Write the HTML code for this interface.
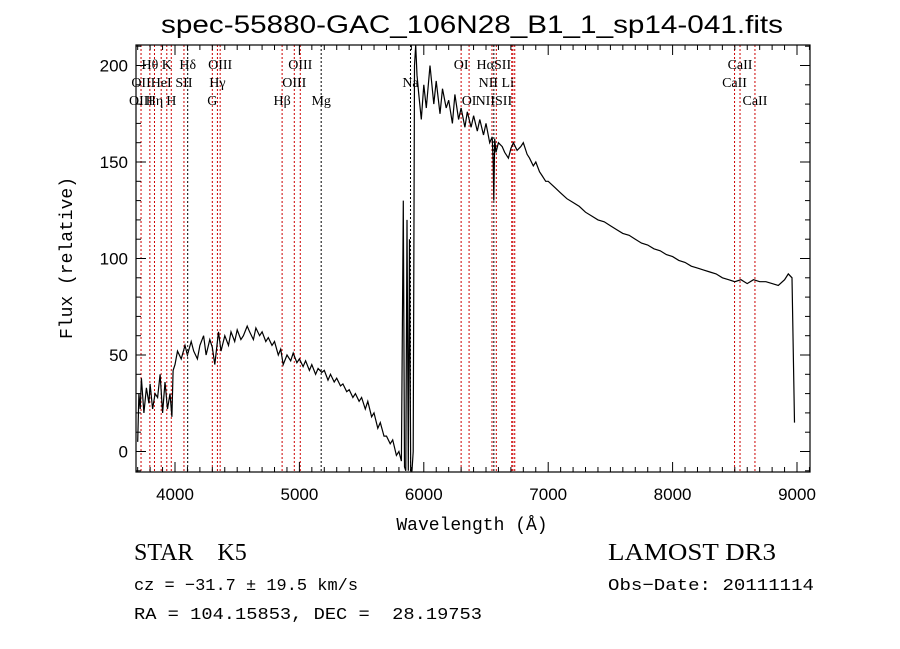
<!DOCTYPE html>
<html><head><meta charset="utf-8"><style>
body{margin:0;background:#fff;}
svg{display:block;}
text{fill:#000;white-space:pre;}
</style></head><body>
<svg id="chart" width="900" height="649" viewBox="0 0 900 649" xmlns="http://www.w3.org/2000/svg" xml:space="preserve">
<rect width="900" height="649" fill="#fff"/>
<text x="472" y="33" text-anchor="middle" font-family="Liberation Sans, sans-serif" font-size="25" textLength="622" lengthAdjust="spacingAndGlyphs">spec-55880-GAC_106N28_B1_1_sp14-041.fits</text>
<g id="lines"></g>
<g id="labels"></g>
<path id="spec" fill="none" stroke="#000" stroke-width="1.2"/>
<rect x="136" y="45" width="674" height="427" fill="none" stroke="#000" stroke-width="1.2"/>
<g id="ticks"></g>
<text x="472" y="530" text-anchor="middle" font-family="Liberation Mono, monospace" font-size="18">Wavelength (Å)</text>
<text transform="translate(72,258) rotate(-90)" text-anchor="middle" font-family="Liberation Mono, monospace" font-size="18">Flux (relative)</text>
<text x="134" y="560" font-family="Liberation Serif, serif" font-size="24">STAR    K5</text>
<text x="608" y="560" font-family="Liberation Serif, serif" font-size="24" textLength="168" lengthAdjust="spacingAndGlyphs">LAMOST DR3</text>
<text x="134" y="590" font-family="Liberation Mono, monospace" font-size="17" textLength="224" lengthAdjust="spacingAndGlyphs">cz = −31.7 ± 19.5 km/s</text>
<text x="608" y="590" font-family="Liberation Mono, monospace" font-size="17" textLength="206" lengthAdjust="spacingAndGlyphs">Obs−Date: 20111114</text>
<text x="134" y="619" font-family="Liberation Mono, monospace" font-size="17" textLength="348" lengthAdjust="spacingAndGlyphs">RA = 104.15853, DEC =  28.19753</text>
</svg>
<script>
const wave=[3700,3710,3720,3730,3750,3770,3790,3800,3820,3840,3860,3880,3900,3920,3940,3960,3975,3985,4000,4020,4050,4080,4100,4130,4150,4180,4200,4230,4250,4280,4300,4320,4350,4370,4400,4430,4450,4480,4500,4530,4550,4580,4600,4630,4650,4680,4700,4730,4750,4780,4800,4830,4850,4870,4900,4930,4950,4980,5000,5030,5050,5080,5100,5130,5150,5180,5200,5230,5250,5280,5300,5330,5350,5380,5400,5430,5450,5480,5500,5530,5550,5580,5600,5630,5650,5680,5700,5730,5750,5780,5800,5820,5835,5845,5855,5865,5875,5885,5895,5905,5915,5925,5935,5945,5960,5980,6000,6020,6050,6080,6100,6130,6150,6180,6200,6230,6250,6280,6300,6330,6350,6380,6400,6430,6450,6480,6500,6530,6550,6558,6563,6570,6580,6600,6630,6650,6680,6700,6720,6750,6780,6800,6830,6850,6880,6900,6930,6950,6980,7000,7050,7100,7150,7200,7250,7300,7350,7400,7450,7500,7550,7600,7650,7700,7750,7800,7850,7900,7950,8000,8050,8100,8150,8200,8250,8300,8350,8400,8450,8500,8550,8600,8650,8700,8750,8800,8850,8900,8930,8960,8980,8995,9000];
const flux=[5,30,22,38,20,33,25,35,22,30,28,40,20,36,22,30,18,42,45,52,48,55,50,57,52,48,55,60,50,58,54,45,62,52,60,55,62,57,63,58,60,65,62,58,64,60,62,57,59,55,57,50,53,45,50,47,51,46,48,44,47,42,45,40,43,41,42,37,40,36,38,34,35,31,32,28,30,26,28,22,26,18,20,12,15,8,8,4,6,-2,0,-5,130,-8,-10,120,-10,110,-10,-10,0,200,212,195,185,172,190,178,200,180,192,175,188,178,182,170,185,172,178,168,176,168,174,166,172,164,170,160,163,150,130,162,155,160,158,155,152,157,160,156,158,160,154,152,148,150,145,143,140,140,137,134,131,129,127,124,122,120,119,117,115,113,112,110,108,107,105,104,102,101,99,98,96,95,94,93,92,90,89,88,89,87,89,88,88,87,86,89,92,90,15];
const lineW=[3727,3798,3835,3889,3934,3970,4072,4102,4300,4341,4363,4861,4959,5007,5175,5893,6300,6364,6548,6563,6583,6707,6716,6731,8498,8542,8662];
const lineBlack=[0,0,0,0,0,0,0,1,0,0,0,0,0,0,1,1,0,0,0,1,0,0,0,0,0,0,0];
const labTxt=["Hθ","K","Hδ","OIII","OIII","OI","HαSII","CaII","OII","HeI","SII","Hγ","OIII","Na","NII Li","CaII","OIII","Hη","H","G","Hβ","Mg","OI","NIISII","CaII"];
const labW=[3798,3934,4102,4363,5007,6300,6563,8542,3727,3889,4072,4341,4959,5893,6583,8498,3727,3835,3970,4300,4861,5175,6364,6563,8662];
const labRow=[0,0,0,0,0,0,0,0,1,1,1,1,1,1,1,1,2,2,2,2,2,2,2,2,2];
const xTicks=[4000,5000,6000,7000,8000,9000];
const yTicks=[0,50,100,150,200];
const X=w=>175+(w-4000)*0.1244;
const Y=f=>451.5-f*1.93;
const NS="http://www.w3.org/2000/svg";
function mk(t,a,p){const e=document.createElementNS(NS,t);for(const k in a)e.setAttribute(k,a[k]);p.appendChild(e);return e;}
let d="";for(let i=0;i<wave.length;i++){let y=Math.max(45,Math.min(472,Y(flux[i])));d+=(i?"L":"M")+X(wave[i]).toFixed(1)+","+y.toFixed(1);}
document.getElementById("spec").setAttribute("d",d);
const gl=document.getElementById("lines");
lineW.forEach((w,i)=>{const l=mk("line",{x1:X(w),x2:X(w),y1:45,y2:472,stroke:lineBlack[i]?"#000":"#c00","stroke-width":1,"stroke-dasharray":"2,2"},gl);

});
const gb=document.getElementById("labels");
labTxt.forEach((t,i)=>{const e=mk("text",{x:X(labW[i]),y:69+labRow[i]*18,"text-anchor":"middle","font-family":"Liberation Serif, serif","font-size":14},gb);e.textContent=t;

});
const gt=document.getElementById("ticks");
for(let w=3700;w<=9100;w+=100){const big=w%1000===0;mk("line",{x1:X(w),x2:X(w),y1:472,y2:472-(big?10:5),stroke:"#000"},gt);mk("line",{x1:X(w),x2:X(w),y1:45,y2:45+(big?10:5),stroke:"#000"},gt);}
xTicks.forEach(w=>{const e=mk("text",{x:X(w),y:500,"text-anchor":"middle","font-family":"Liberation Sans, sans-serif","font-size":17},gt);e.textContent=w;

});
for(let f=-10;f<=210;f+=10){const big=f%50===0;mk("line",{x1:136,x2:136+(big?10:5),y1:Y(f),y2:Y(f),stroke:"#000"},gt);mk("line",{x1:810,x2:810-(big?10:5),y1:Y(f),y2:Y(f),stroke:"#000"},gt);}
yTicks.forEach(f=>{const e=mk("text",{x:128,y:Y(f)+6,"text-anchor":"end","font-family":"Liberation Sans, sans-serif","font-size":17},gt);e.textContent=f;

});
</script>
</body></html>
